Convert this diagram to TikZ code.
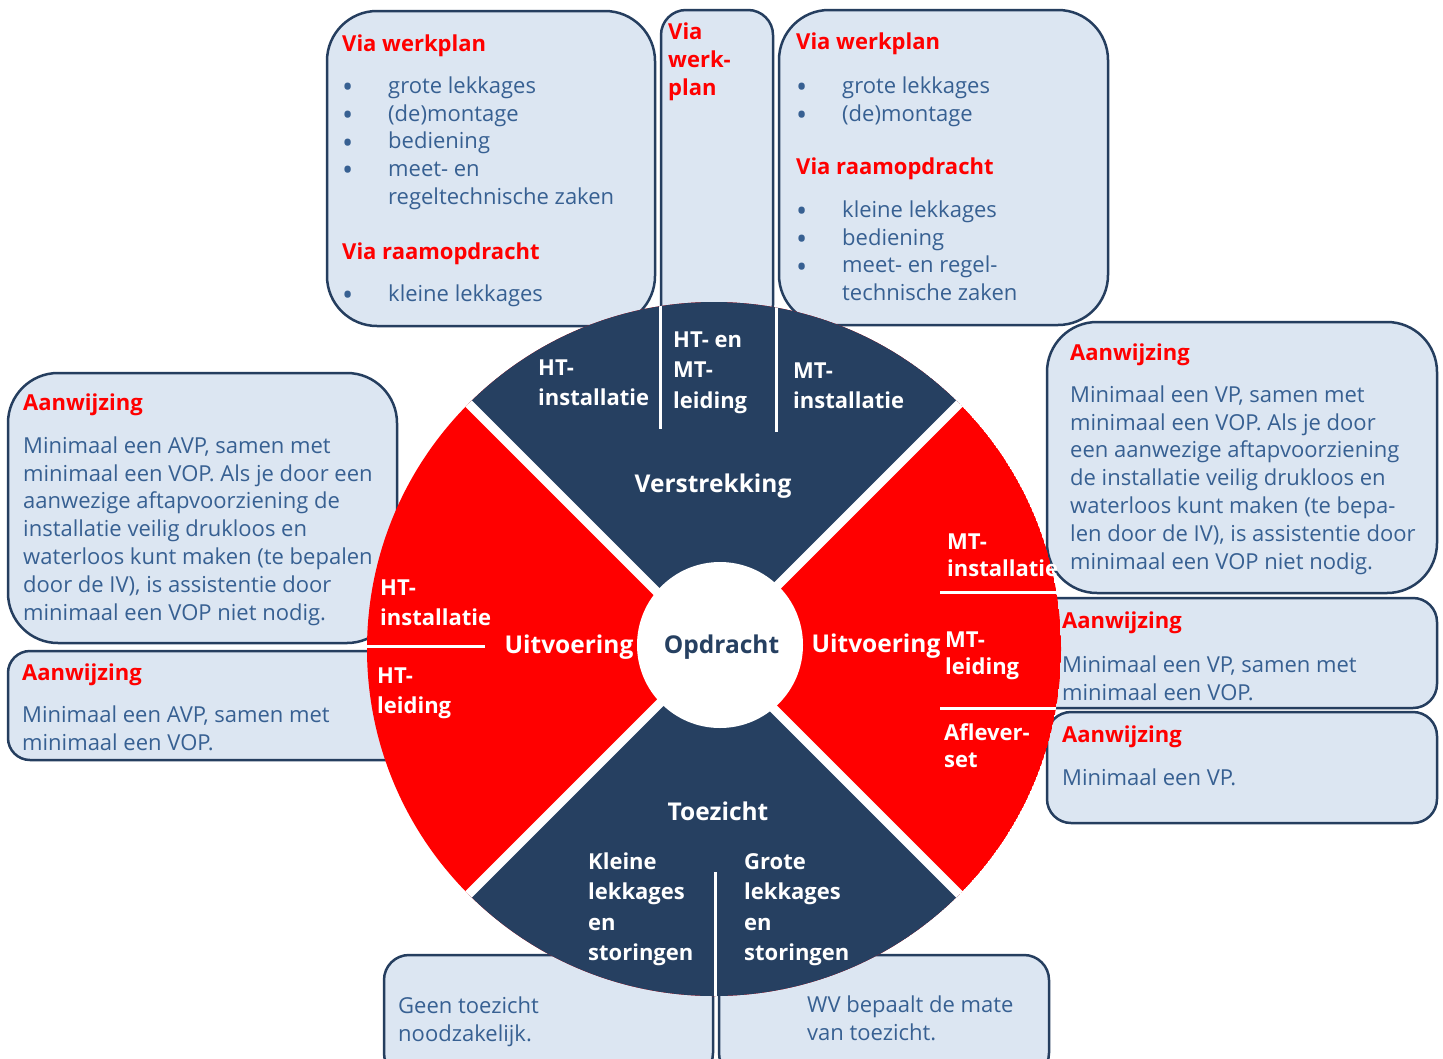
\documentclass[tikz,border=0pt]{standalone}
\usepackage{fontspec}
\usepackage{graphicx}
\setmainfont{Open Sans}
\definecolor{navy}{RGB}{38,64,97}
\definecolor{boxfill}{RGB}{220,230,242}
\definecolor{boxline}{RGB}{37,62,95}
\definecolor{bodyblue}{RGB}{55,96,146}
\definecolor{hred}{RGB}{255,0,0}
\newcommand{\fl}{\rule{0pt}{18pt}}
\newcommand{\fh}{\rule{0pt}{20pt}}
\newcommand{\bul}{\makebox[46pt][l]{\raisebox{-4.2pt}{\scalebox{1.35}{\textbullet}}}}
\begin{document}
\begin{tikzpicture}[x=1pt,y=-1pt,
  box/.style={draw=boxline, line width=2.5pt, fill=boxfill},
  body/.style={anchor=north west, inner sep=0pt, text=bodyblue, align=left, font=\fontsize{22}{27.8}\selectfont},
  head/.style={anchor=north west, inner sep=0pt, text=hred, align=left, font=\bfseries\fontsize{22}{28}\selectfont},
  lab/.style={anchor=north west, inner sep=0pt, text=white, align=left, font=\bfseries\fontsize{22}{30.5}\selectfont},
  labr/.style={lab, font=\bfseries\fontsize{22}{27}\selectfont},
  title/.style={anchor=base, inner sep=0pt, text=white, font=\bfseries\fontsize{24.5}{30}\selectfont},
  sep/.style={draw=white, line width=3pt},
]
\path[use as bounding box, clip] (0,0) rectangle (1443,1058);
\fill[white] (0,0) rectangle (1443,1058);

% ---------- boxes (behind the wheel) ----------
\draw[box, rounded corners=50pt] (327,11) rectangle (655,326);
\draw[box, rounded corners=25pt] (661,10) rectangle (773,330);
\draw[box, rounded corners=50pt] (779,10) rectangle (1108,325);
\draw[box, rounded corners=50pt] (8,373) rectangle (397,643);
\draw[box, rounded corners=22pt] (8,651) rectangle (430,760);
\draw[box, rounded corners=50pt] (1047,322) rectangle (1437,593);
\draw[box, rounded corners=24pt] (1030,598) rectangle (1437,708);
\draw[box, rounded corners=24pt] (1047,712) rectangle (1437,823);
\draw[box, rounded corners=25pt] (384,955) rectangle (713,1078);
\draw[box, rounded corners=25pt] (719,955) rectangle (1049,1078);

% ---------- box texts ----------
\node[head] (tlh1) at (342,31) {\fh Via werkplan};
\node[body] (tll1) at (342,75) {\fl\bul grote lekkages\\\bul (de)montage\\\bul bediening\\\bul meet- en\\\hspace*{46pt}regeltechnische zaken};
\node[head] (tlh2) at (342,239) {\fh Via raamopdracht};
\node[body] (tll2) at (342,283) {\fl\bul kleine lekkages};

\node[head] (tmh) at (668,19) {\fh Via\\werk-\\plan};

\node[head] (trh1) at (796,29) {\fh Via werkplan};
\node[body] (trl1) at (796,75) {\fl\bul grote lekkages\\\bul (de)montage};
\node[head] (trh2) at (796,154) {\fh Via raamopdracht};
\node[body] (trl2) at (796,199) {\fl\bul kleine lekkages\\\bul bediening\\\bul meet- en regel-\\\hspace*{46pt}technische zaken};

\node[head] (lbh) at (23,390) {\fh Aanwijzing};
\node[body] (lbt) at (23,435) {\fl Minimaal een AVP, samen met\\minimaal een VOP. Als je door een\\aanwezige aftapvoorziening de\\installatie veilig drukloos en\\waterloos kunt maken (te bepalen\\door de IV), is assistentie door\\minimaal een VOP niet nodig.};
\node[head] (lsh) at (22,660) {\fh Aanwijzing};
\node[body] (lst) at (22,704) {\fl Minimaal een AVP, samen met\\minimaal een VOP.};

\node[head] (rbh) at (1070,340) {\fh Aanwijzing};
\node[body] (rbt) at (1070,384) {\fl Minimaal een VP, samen met\\minimaal een VOP. Als je door\\een aanwezige aftapvoorziening\\de installatie veilig drukloos en\\waterloos kunt maken (te bepa-\\len door de IV), is assistentie door\\minimaal een VOP niet nodig.};
\node[head] (rmh) at (1062,608) {\fh Aanwijzing};
\node[body] (rmt) at (1062,654) {\fl Minimaal een VP, samen met\\minimaal een VOP.};
\node[head] (rsh) at (1062,722) {\fh Aanwijzing};
\node[body] (rst) at (1062,767) {\fl Minimaal een VP.};

\node[body] (blt) at (398,995) {\fl Geen toezicht\\noodzakelijk.};
\node[body] (brt) at (807,994) {\fl WV bepaalt de mate\\van toezicht.};

% ---------- wheel ----------
\coordinate (C) at (714,649);
\begin{scope}
  \clip (C) circle (347);
  \fill[hred] (C) circle (347);
  \fill[navy] (C) -- ++(-600,-600) -- ++(1200,0) -- cycle;
  \fill[navy] (C) -- ++(-600,600) -- ++(1200,0) -- cycle;
  \draw[white, line width=9pt] (C) ++(-600,-600) -- ++(1200,1200);
  \draw[white, line width=9pt] (C) ++(-600,600) -- ++(1200,-1200);
  \draw[sep] (660,290) -- (660,429);
  \draw[sep] (776,290) -- (776,432);
  \draw[sep] (350,646) -- (485,646);
  \draw[sep] (940,592) -- (1080,592);
  \draw[sep] (940,708) -- (1080,708);
  \draw[sep] (715,872) -- (715,1010);
\end{scope}
\fill[white] (720,645) circle (83);

% ---------- wheel texts ----------
\node[lab] (t1) at (538,355) {\fh HT-\\installatie};
\node[lab] (t2) at (673,327) {\fh HT- en\\MT-\\leiding};
\node[lab] (t3) at (793,358) {\fh MT-\\installatie};
\node[title] (tv) at (713,492) {Verstrekking};

\node[lab] (l1) at (380,575) {\fh HT-\\installatie};
\node[lab] (l2) at (377,663) {\fh HT-\\leiding};
\node[title] (lu) at (569,653) {Uitvoering};

\node[title] (ru) at (876,652) {Uitvoering};
\node[labr] (r1) at (947,529) {\fh MT-\\installatie};
\node[labr] (r2) at (945,627) {\fh MT-\\leiding};
\node[labr] (r3) at (944,720) {\fh Aflever-\\set};

\node[title, text=navy] (op) at (721.5,653) {Opdracht};

\node[title] (bt) at (718,820) {Toezicht};
\node[lab] (b1) at (588,849) {\fh Kleine\\lekkages\\en\\storingen};
\node[lab] (b2) at (744,849) {\fh Grote\\lekkages\\en\\storingen};
\end{tikzpicture}
\end{document}
